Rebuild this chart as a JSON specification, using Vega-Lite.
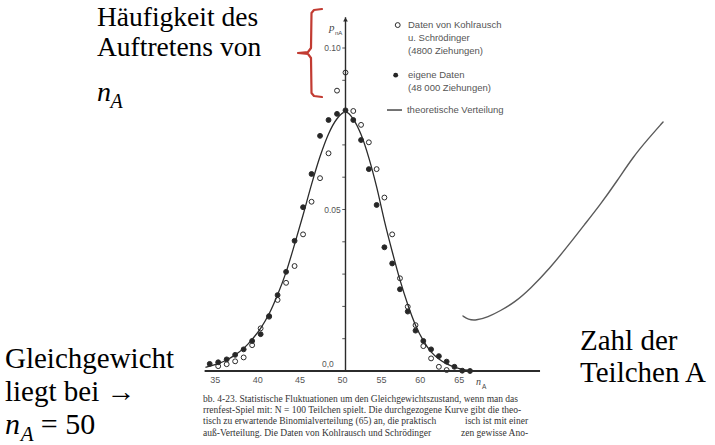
{
  "$schema": "https://vega.github.io/schema/vega-lite/v6.json",
  "width": 715,
  "height": 445,
  "autosize": {"type": "none"},
  "padding": 0,
  "background": "white",
  "config": {"view": {"stroke": null}, "axis": {"grid": false}},
  "datasets": {
    "eins": [{}],
    "xachse": [{"wert": 35}, {"wert": 40}, {"wert": 45}, {"wert": 50}, {"wert": 55}, {"wert": 60}, {"wert": 65}],
    "ystriche": [{"wert": 0.01}, {"wert": 0.02}, {"wert": 0.03}, {"wert": 0.04}, {"wert": 0.05}, {"wert": 0.06}, {"wert": 0.07}, {"wert": 0.08}, {"wert": 0.09}, {"wert": 0.1}],
    "ybeschriftung": [{"wert": 0.05}, {"wert": 0.1}],
    "theorie": [
      {"n": 33.5, "p": 0.0011}, {"n": 34, "p": 0.0015}, {"n": 35, "p": 0.0023}, {"n": 36, "p": 0.0034},
      {"n": 37, "p": 0.005}, {"n": 38, "p": 0.007}, {"n": 39, "p": 0.0098}, {"n": 40, "p": 0.0132},
      {"n": 41, "p": 0.0177}, {"n": 42, "p": 0.0236}, {"n": 43, "p": 0.0306}, {"n": 44, "p": 0.0392},
      {"n": 45, "p": 0.0483}, {"n": 46, "p": 0.0578}, {"n": 47, "p": 0.0664}, {"n": 48, "p": 0.0734},
      {"n": 49, "p": 0.0781}, {"n": 50, "p": 0.0802}, {"n": 51, "p": 0.078}, {"n": 52, "p": 0.0732},
      {"n": 53, "p": 0.066}, {"n": 54, "p": 0.057}, {"n": 55, "p": 0.0465}, {"n": 56, "p": 0.037},
      {"n": 57, "p": 0.0282}, {"n": 58, "p": 0.0206}, {"n": 59, "p": 0.0142}, {"n": 60, "p": 0.0094},
      {"n": 61, "p": 0.0059}, {"n": 62, "p": 0.0037}, {"n": 63, "p": 0.0022}, {"n": 64, "p": 0.0012},
      {"n": 65, "p": 0.0005}, {"n": 66, "p": 0.0002}, {"n": 67, "p": 0.0}
    ],
    "messwerte": [
      {"n": 35, "p": 0.0015, "quelle": "Kohlrausch u. Schrödinger"},
      {"n": 36, "p": 0.0021, "quelle": "Kohlrausch u. Schrödinger"},
      {"n": 37, "p": 0.003, "quelle": "Kohlrausch u. Schrödinger"},
      {"n": 38, "p": 0.0042, "quelle": "Kohlrausch u. Schrödinger"},
      {"n": 39, "p": 0.008, "quelle": "Kohlrausch u. Schrödinger"},
      {"n": 40, "p": 0.0132, "quelle": "Kohlrausch u. Schrödinger"},
      {"n": 41, "p": 0.0168, "quelle": "Kohlrausch u. Schrödinger"},
      {"n": 42, "p": 0.022, "quelle": "Kohlrausch u. Schrödinger"},
      {"n": 43, "p": 0.0273, "quelle": "Kohlrausch u. Schrödinger"},
      {"n": 44, "p": 0.0325, "quelle": "Kohlrausch u. Schrödinger"},
      {"n": 45, "p": 0.0423, "quelle": "Kohlrausch u. Schrödinger"},
      {"n": 46, "p": 0.0524, "quelle": "Kohlrausch u. Schrödinger"},
      {"n": 47, "p": 0.0597, "quelle": "Kohlrausch u. Schrödinger"},
      {"n": 48, "p": 0.0674, "quelle": "Kohlrausch u. Schrödinger"},
      {"n": 49, "p": 0.0868, "quelle": "Kohlrausch u. Schrödinger"},
      {"n": 50, "p": 0.0924, "quelle": "Kohlrausch u. Schrödinger"},
      {"n": 51, "p": 0.0805, "quelle": "Kohlrausch u. Schrödinger"},
      {"n": 52, "p": 0.0762, "quelle": "Kohlrausch u. Schrödinger"},
      {"n": 53, "p": 0.0708, "quelle": "Kohlrausch u. Schrödinger"},
      {"n": 54, "p": 0.0625, "quelle": "Kohlrausch u. Schrödinger"},
      {"n": 55, "p": 0.0537, "quelle": "Kohlrausch u. Schrödinger"},
      {"n": 56, "p": 0.0423, "quelle": "Kohlrausch u. Schrödinger"},
      {"n": 57, "p": 0.0287, "quelle": "Kohlrausch u. Schrödinger"},
      {"n": 58, "p": 0.0199, "quelle": "Kohlrausch u. Schrödinger"},
      {"n": 59, "p": 0.0142, "quelle": "Kohlrausch u. Schrödinger"},
      {"n": 60, "p": 0.0077, "quelle": "Kohlrausch u. Schrödinger"},
      {"n": 61, "p": 0.0039, "quelle": "Kohlrausch u. Schrödinger"},
      {"n": 62, "p": 0.0013, "quelle": "Kohlrausch u. Schrödinger"},
      {"n": 63, "p": 0.0003, "quelle": "Kohlrausch u. Schrödinger"},
      {"n": 34, "p": 0.0022, "quelle": "eigene Daten"},
      {"n": 35, "p": 0.0027, "quelle": "eigene Daten"},
      {"n": 36, "p": 0.0036, "quelle": "eigene Daten"},
      {"n": 37, "p": 0.005, "quelle": "eigene Daten"},
      {"n": 38, "p": 0.0067, "quelle": "eigene Daten"},
      {"n": 39, "p": 0.0093, "quelle": "eigene Daten"},
      {"n": 40, "p": 0.0114, "quelle": "eigene Daten"},
      {"n": 41, "p": 0.017, "quelle": "eigene Daten"},
      {"n": 42, "p": 0.0235, "quelle": "eigene Daten"},
      {"n": 43, "p": 0.0307, "quelle": "eigene Daten"},
      {"n": 44, "p": 0.0403, "quelle": "eigene Daten"},
      {"n": 45, "p": 0.0507, "quelle": "eigene Daten"},
      {"n": 46, "p": 0.061, "quelle": "eigene Daten"},
      {"n": 47, "p": 0.0728, "quelle": "eigene Daten"},
      {"n": 48, "p": 0.0777, "quelle": "eigene Daten"},
      {"n": 49, "p": 0.0796, "quelle": "eigene Daten"},
      {"n": 50, "p": 0.0807, "quelle": "eigene Daten"},
      {"n": 51, "p": 0.0777, "quelle": "eigene Daten"},
      {"n": 52, "p": 0.0715, "quelle": "eigene Daten"},
      {"n": 53, "p": 0.0625, "quelle": "eigene Daten"},
      {"n": 54, "p": 0.0514, "quelle": "eigene Daten"},
      {"n": 55, "p": 0.0383, "quelle": "eigene Daten"},
      {"n": 56, "p": 0.0333, "quelle": "eigene Daten"},
      {"n": 57, "p": 0.0253, "quelle": "eigene Daten"},
      {"n": 58, "p": 0.0184, "quelle": "eigene Daten"},
      {"n": 59, "p": 0.0125, "quelle": "eigene Daten"},
      {"n": 60, "p": 0.0093, "quelle": "eigene Daten"},
      {"n": 61, "p": 0.0067, "quelle": "eigene Daten"},
      {"n": 62, "p": 0.0046, "quelle": "eigene Daten"},
      {"n": 63, "p": 0.0029, "quelle": "eigene Daten"},
      {"n": 64, "p": 0.0013, "quelle": "eigene Daten"},
      {"n": 65, "p": 0.0001, "quelle": "eigene Daten"},
      {"n": 66, "p": 0.0, "quelle": "eigene Daten"}
    ],
    "klammer": [
      {"i": 0, "x": 47.231, "y": 0.11207}, {"i": 1, "x": 46.289, "y": 0.11176},
      {"i": 2, "x": 45.994, "y": 0.11084}, {"i": 3, "x": 45.935, "y": 0.1},
      {"i": 4, "x": 45.582, "y": 0.09876}, {"i": 5, "x": 44.404, "y": 0.09845},
      {"i": 6, "x": 45.582, "y": 0.09814}, {"i": 7, "x": 45.935, "y": 0.0969},
      {"i": 8, "x": 45.994, "y": 0.08607}, {"i": 9, "x": 46.289, "y": 0.08514},
      {"i": 10, "x": 47.231, "y": 0.08483}
    ],
    "handlinie": [
      {"i": 0, "x": 65.1, "y": 0.01703}, {"i": 1, "x": 65.75, "y": 0.01594},
      {"i": 2, "x": 66.77, "y": 0.01563}, {"i": 3, "x": 68.32, "y": 0.01672},
      {"i": 4, "x": 69.86, "y": 0.01858}, {"i": 5, "x": 71.79, "y": 0.02136},
      {"i": 6, "x": 73.72, "y": 0.02539}, {"i": 7, "x": 76.29, "y": 0.03189},
      {"i": 8, "x": 78.47, "y": 0.03839}, {"i": 9, "x": 80.78, "y": 0.04551},
      {"i": 10, "x": 82.71, "y": 0.05139}, {"i": 11, "x": 84.9, "y": 0.05882},
      {"i": 12, "x": 86.95, "y": 0.06625}, {"i": 13, "x": 88.88, "y": 0.07183},
      {"i": 14, "x": 90.81, "y": 0.07709}
    ]
  },
  "layer": [
    {
      "data": {"name": "theorie"},
      "mark": {"type": "line", "interpolate": "monotone", "color": "#2b2b2b", "strokeWidth": 1.3},
      "encoding": {
        "x": {
          "field": "n", "type": "quantitative", "title": null, "axis": null,
          "scale": {"domain": [34, 50, 66], "range": [209.7, 345.5, 470], "nice": false, "zero": false}
        },
        "y": {
          "field": "p", "type": "quantitative", "title": null, "axis": null,
          "scale": {"domain": [-0.02291, 0.114861], "nice": false, "zero": false}
        }
      }
    },
    {
      "data": {"name": "messwerte"},
      "mark": {"type": "point", "shape": "circle", "filled": true, "size": 24, "stroke": "#2b2b2b", "strokeWidth": 1, "opacity": 1},
      "encoding": {
        "x": {"field": "n", "type": "quantitative", "axis": null},
        "y": {"field": "p", "type": "quantitative", "axis": null},
        "fill": {"field": "quelle", "type": "nominal",
                 "scale": {"domain": ["Kohlrausch u. Schrödinger", "eigene Daten"], "range": ["transparent", "#262626"]},
                 "legend": null}
      }
    },
    {
      "data": {"name": "xachse"},
      "mark": {"type": "text", "align": "center", "baseline": "middle", "dx": -3, "font": "Liberation Sans", "fontSize": 9, "color": "#555"},
      "encoding": {
        "x": {"field": "wert", "type": "quantitative", "axis": null},
        "y": {"datum": -0.00279, "axis": null},
        "text": {"field": "wert", "type": "quantitative", "format": "d"}
      }
    },
    {
      "data": {"name": "ystriche"},
      "mark": {"type": "rule", "color": "#555", "strokeWidth": 1},
      "encoding": {
        "x": {"datum": 49.62, "axis": null},
        "x2": {"datum": 50},
        "y": {"field": "wert", "type": "quantitative", "axis": null}
      }
    },
    {
      "data": {"name": "ybeschriftung"},
      "mark": {"type": "text", "align": "right", "baseline": "middle", "font": "Liberation Sans", "fontSize": 8.5, "color": "#555"},
      "encoding": {
        "x": {"datum": 49.45, "axis": null},
        "y": {"field": "wert", "type": "quantitative", "axis": null},
        "text": {"field": "wert", "type": "quantitative", "format": ".2f"}
      }
    },
    {
      "data": {"name": "eins"},
      "mark": {"type": "rule", "color": "#2b2b2b", "strokeWidth": 2},
      "encoding": {"x": {"datum": 33.4, "axis": null}, "x2": {"datum": 75}, "y": {"datum": 0, "axis": null}}
    },
    {
      "data": {"name": "eins"},
      "mark": {"type": "rule", "color": "#2b2b2b", "strokeWidth": 1.4},
      "encoding": {"x": {"datum": 50, "axis": null}, "y": {"datum": 0, "axis": null}, "y2": {"datum": 0.1095}}
    },
    {
      "data": {"name": "eins"},
      "mark": {"type": "point", "shape": "triangle-up", "filled": true, "size": 22, "color": "#2b2b2b", "opacity": 1},
      "encoding": {"x": {"datum": 50, "axis": null}, "y": {"datum": 0.1088, "axis": null}}
    },
    {
      "data": {"name": "eins"},
      "mark": {"type": "text", "text": "0,0", "align": "left", "baseline": "alphabetic", "font": "Liberation Sans", "fontSize": 8.5, "color": "#555"},
      "encoding": {"x": {"datum": 47.23, "axis": null}, "y": {"datum": 0.00124, "axis": null}}
    },
    {
      "data": {"name": "eins"},
      "mark": {"type": "text", "text": "p", "align": "left", "baseline": "alphabetic", "font": "Liberation Serif", "fontStyle": "italic", "fontSize": 11, "color": "#444"},
      "encoding": {"x": {"datum": 48.06, "axis": null}, "y": {"datum": 0.10526, "axis": null}}
    },
    {
      "data": {"name": "eins"},
      "mark": {"type": "text", "text": "nA", "align": "left", "baseline": "alphabetic", "font": "Liberation Sans", "fontSize": 6, "color": "#444"},
      "encoding": {"x": {"datum": 48.76, "axis": null}, "y": {"datum": 0.10402, "axis": null}}
    },
    {
      "data": {"name": "eins"},
      "mark": {"type": "text", "text": "n", "align": "left", "baseline": "alphabetic", "font": "Liberation Serif", "fontStyle": "italic", "fontSize": 10, "color": "#444"},
      "encoding": {"x": {"datum": 66.77, "axis": null}, "y": {"datum": -0.00433, "axis": null}}
    },
    {
      "data": {"name": "eins"},
      "mark": {"type": "text", "text": "A", "align": "left", "baseline": "alphabetic", "font": "Liberation Sans", "fontSize": 6.5, "color": "#444"},
      "encoding": {"x": {"datum": 67.54, "axis": null}, "y": {"datum": -0.00557, "axis": null}}
    },
    {
      "data": {"name": "eins"},
      "mark": {"type": "point", "shape": "circle", "filled": false, "size": 24, "color": "#2b2b2b", "strokeWidth": 1, "opacity": 1},
      "encoding": {"x": {"datum": 56.71, "axis": null}, "y": {"datum": 0.1071, "axis": null}}
    },
    {
      "data": {"name": "eins"},
      "mark": {"type": "point", "shape": "circle", "filled": true, "size": 24, "color": "#262626", "opacity": 1},
      "encoding": {"x": {"datum": 56.45, "axis": null}, "y": {"datum": 0.0916, "axis": null}}
    },
    {
      "data": {"name": "eins"},
      "mark": {"type": "rule", "color": "#2b2b2b", "strokeWidth": 1.3},
      "encoding": {"x": {"datum": 55.33, "axis": null}, "x2": {"datum": 57.26}, "y": {"datum": 0.0808, "axis": null}}
    },
    {
      "data": {"name": "eins"},
      "mark": {"type": "text", "text": "Daten von Kohlrausch", "align": "left", "baseline": "middle", "font": "Liberation Sans", "fontSize": 9.5, "color": "#555"},
      "encoding": {"x": {"datum": 58.03, "axis": null}, "y": {"datum": 0.1071, "axis": null}}
    },
    {
      "data": {"name": "eins"},
      "mark": {"type": "text", "text": "u. Schrödinger", "align": "left", "baseline": "middle", "font": "Liberation Sans", "fontSize": 9.5, "color": "#555"},
      "encoding": {"x": {"datum": 58.03, "axis": null}, "y": {"datum": 0.1031, "axis": null}}
    },
    {
      "data": {"name": "eins"},
      "mark": {"type": "text", "text": "(4800 Ziehungen)", "align": "left", "baseline": "middle", "font": "Liberation Sans", "fontSize": 9.5, "color": "#555"},
      "encoding": {"x": {"datum": 58.03, "axis": null}, "y": {"datum": 0.0991, "axis": null}}
    },
    {
      "data": {"name": "eins"},
      "mark": {"type": "text", "text": "eigene Daten", "align": "left", "baseline": "middle", "font": "Liberation Sans", "fontSize": 9.5, "color": "#555"},
      "encoding": {"x": {"datum": 58.03, "axis": null}, "y": {"datum": 0.0916, "axis": null}}
    },
    {
      "data": {"name": "eins"},
      "mark": {"type": "text", "text": "(48 000 Ziehungen)", "align": "left", "baseline": "middle", "font": "Liberation Sans", "fontSize": 9.5, "color": "#555"},
      "encoding": {"x": {"datum": 58.03, "axis": null}, "y": {"datum": 0.0876, "axis": null}}
    },
    {
      "data": {"name": "eins"},
      "mark": {"type": "text", "text": "theoretische Verteilung", "align": "left", "baseline": "middle", "font": "Liberation Sans", "fontSize": 9.5, "color": "#555"},
      "encoding": {"x": {"datum": 57.9, "axis": null}, "y": {"datum": 0.0808, "axis": null}}
    },
    {
      "data": {"name": "klammer"},
      "mark": {"type": "line", "color": "#c23b32", "strokeWidth": 2.2, "strokeCap": "round", "strokeJoin": "round"},
      "encoding": {
        "x": {"field": "x", "type": "quantitative", "axis": null},
        "y": {"field": "y", "type": "quantitative", "axis": null},
        "order": {"field": "i"}
      }
    },
    {
      "data": {"name": "handlinie"},
      "mark": {"type": "line", "color": "#5a5a5a", "strokeWidth": 1.4, "interpolate": "basis", "strokeCap": "round"},
      "encoding": {
        "x": {"field": "x", "type": "quantitative", "axis": null},
        "y": {"field": "y", "type": "quantitative", "axis": null},
        "order": {"field": "i"}
      }
    },
    {
      "data": {"name": "eins"},
      "mark": {"type": "text", "text": "bb. 4-23. Statistische Fluktuationen um den Gleichgewichtszustand, wenn man das", "align": "left", "baseline": "alphabetic", "font": "Liberation Serif", "fontSize": 9.5, "color": "#333"},
      "encoding": {"x": {"datum": 33.21, "axis": null}, "y": {"datum": -0.0096, "axis": null}}
    },
    {
      "data": {"name": "eins"},
      "mark": {"type": "text", "text": "rrenfest-Spiel mit: N = 100 Teilchen spielt. Die durchgezogene Kurve gibt die theo-", "align": "left", "baseline": "alphabetic", "font": "Liberation Serif", "fontSize": 9.5, "color": "#333"},
      "encoding": {"x": {"datum": 33.21, "axis": null}, "y": {"datum": -0.013, "axis": null}}
    },
    {
      "data": {"name": "eins"},
      "mark": {"type": "text", "text": "tisch zu erwartende Binomialverteilung (65) an, die praktisch", "align": "left", "baseline": "alphabetic", "font": "Liberation Serif", "fontSize": 9.5, "color": "#333"},
      "encoding": {"x": {"datum": 33.21, "axis": null}, "y": {"datum": -0.01656, "axis": null}}
    },
    {
      "data": {"name": "eins"},
      "mark": {"type": "text", "text": "isch ist mit einer", "align": "right", "baseline": "alphabetic", "font": "Liberation Serif", "fontSize": 9.5, "color": "#333"},
      "encoding": {"x": {"datum": 73.46, "axis": null}, "y": {"datum": -0.01656, "axis": null}}
    },
    {
      "data": {"name": "eins"},
      "mark": {"type": "text", "text": "auß-Verteilung. Die Daten von Kohlrausch und Schrödinger", "align": "left", "baseline": "alphabetic", "font": "Liberation Serif", "fontSize": 9.5, "color": "#333"},
      "encoding": {"x": {"datum": 33.21, "axis": null}, "y": {"datum": -0.01997, "axis": null}}
    },
    {
      "data": {"name": "eins"},
      "mark": {"type": "text", "text": "zen gewisse Ano-", "align": "right", "baseline": "alphabetic", "font": "Liberation Serif", "fontSize": 9.5, "color": "#333"},
      "encoding": {"x": {"datum": 73.46, "axis": null}, "y": {"datum": -0.01997, "axis": null}}
    },
    {
      "data": {"name": "eins"},
      "mark": {"type": "text", "text": "Häufigkeit des", "align": "left", "baseline": "alphabetic", "font": "Liberation Serif", "fontSize": 27.5, "color": "black"},
      "encoding": {"x": {"datum": 20.72, "axis": null}, "y": {"datum": 0.10681, "axis": null}}
    },
    {
      "data": {"name": "eins"},
      "mark": {"type": "text", "text": "Auftretens von", "align": "left", "baseline": "alphabetic", "font": "Liberation Serif", "fontSize": 27.5, "color": "black"},
      "encoding": {"x": {"datum": 20.72, "axis": null}, "y": {"datum": 0.09752, "axis": null}}
    },
    {
      "data": {"name": "eins"},
      "mark": {"type": "text", "text": "n", "align": "left", "baseline": "alphabetic", "font": "Liberation Serif", "fontStyle": "italic", "fontSize": 28, "color": "black"},
      "encoding": {"x": {"datum": 20.72, "axis": null}, "y": {"datum": 0.08359, "axis": null}}
    },
    {
      "data": {"name": "eins"},
      "mark": {"type": "text", "text": "A", "align": "left", "baseline": "alphabetic", "font": "Liberation Serif", "fontStyle": "italic", "fontSize": 20, "color": "black"},
      "encoding": {"x": {"datum": 22.3, "axis": null}, "y": {"datum": 0.08142, "axis": null}}
    },
    {
      "data": {"name": "eins"},
      "mark": {"type": "text", "text": "Gleichgewicht", "align": "left", "baseline": "alphabetic", "font": "Liberation Serif", "fontSize": 29, "color": "black"},
      "encoding": {"x": {"datum": 9.88, "axis": null}, "y": {"datum": 0.00093, "axis": null}}
    },
    {
      "data": {"name": "eins"},
      "mark": {"type": "text", "text": "liegt bei →", "align": "left", "baseline": "alphabetic", "font": "Liberation Serif", "fontSize": 29, "color": "black"},
      "encoding": {"x": {"datum": 9.88, "axis": null}, "y": {"datum": -0.00929, "axis": null}}
    },
    {
      "data": {"name": "eins"},
      "mark": {"type": "text", "text": "n", "align": "left", "baseline": "alphabetic", "font": "Liberation Serif", "fontStyle": "italic", "fontSize": 30, "color": "black"},
      "encoding": {"x": {"datum": 9.88, "axis": null}, "y": {"datum": -0.0195, "axis": null}}
    },
    {
      "data": {"name": "eins"},
      "mark": {"type": "text", "text": "A", "align": "left", "baseline": "alphabetic", "font": "Liberation Serif", "fontStyle": "italic", "fontSize": 21, "color": "black"},
      "encoding": {"x": {"datum": 11.75, "axis": null}, "y": {"datum": -0.0217, "axis": null}}
    },
    {
      "data": {"name": "eins"},
      "mark": {"type": "text", "text": "= 50", "align": "left", "baseline": "alphabetic", "font": "Liberation Serif", "fontSize": 30, "color": "black"},
      "encoding": {"x": {"datum": 14.1, "axis": null}, "y": {"datum": -0.0195, "axis": null}}
    },
    {
      "data": {"name": "eins"},
      "mark": {"type": "text", "text": "Zahl der", "align": "left", "baseline": "alphabetic", "font": "Liberation Serif", "fontSize": 29, "color": "black"},
      "encoding": {"x": {"datum": 80.14, "axis": null}, "y": {"datum": 0.0065, "axis": null}}
    },
    {
      "data": {"name": "eins"},
      "mark": {"type": "text", "text": "Teilchen A", "align": "left", "baseline": "alphabetic", "font": "Liberation Serif", "fontSize": 29, "color": "black"},
      "encoding": {"x": {"datum": 80.14, "axis": null}, "y": {"datum": -0.0034, "axis": null}}
    }
  ]
}
